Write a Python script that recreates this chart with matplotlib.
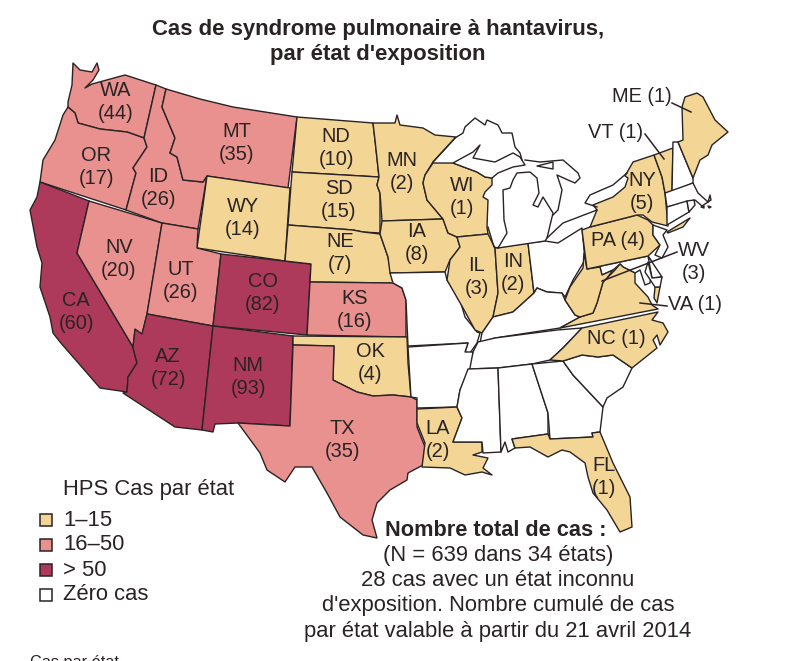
import numpy as np
import matplotlib
matplotlib.use("Agg")
import matplotlib.pyplot as plt
from matplotlib.patches import Polygon, Rectangle

plt.rcParams['font.family'] = ['Liberation Sans', 'DejaVu Sans']

INK = '#2a2324'
BIN_COLORS = ['#ffffff', '#f3d596', '#e8918f', '#ae3a5b']
BIN_EDGES = [1, 16, 51]

# cases per state, as printed on the map
states_with_cases = ['WA', 'OR', 'CA', 'NV', 'ID', 'MT', 'WY', 'UT', 'AZ', 'CO', 'NM', 'ND', 'SD', 'NE',
                     'KS', 'OK', 'TX', 'MN', 'IA', 'WI', 'IL', 'IN', 'LA', 'FL', 'NC', 'VA', 'WV', 'PA',
                     'NY', 'VT', 'ME']
case_counts = [44, 17, 60, 20, 26, 35, 14, 26, 72, 82, 93, 10, 15, 7,
               16, 4, 35, 2, 8, 1, 3, 2, 2, 1, 1, 1, 3, 4, 5, 1, 1]
cases = dict(zip(states_with_cases, case_counts))

title_lines = "Cas de syndrome pulmonaire à hantavirus,\npar état d'exposition"
legend_title = 'HPS Cas par état'
legend_labels = ['1–15', '16–50', '> 50', 'Zéro cas']
legend_bins = [1, 2, 3, 0]
total_head = 'Nombre total de cas :'
total_lines = ['(N = 639 dans 34 états)', '28 cas avec un état inconnu',
               "d'exposition. Nombre cumulé de cas", 'par état valable à partir du 21 avril 2014']

# state outlines, map units are the picture's own pixels
outlines = {
    'WA': [(73, 63), (80, 70), (92, 72), (97, 63), (99, 70), (93, 80), (85, 88), (92, 84), (125, 75), (156, 85), (144, 138),
           (127, 132), (100, 129), (78, 123), (75, 113), (68, 107), (68, 102), (72, 85)],
    'OR': [(68, 107), (75, 113), (78, 123), (100, 129), (127, 132), (144, 138), (147, 147), (133, 168), (136, 173),
           (126, 210), (40, 182), (43, 160), (55, 140), (63, 115)],
    'CA': [(40, 182), (89, 201), (77, 253), (133, 347), (137, 363), (128, 377), (127, 392), (100, 388), (80, 365),
           (60, 342), (53, 333), (50, 317), (40, 287), (42, 263), (37, 247), (30, 210), (37, 197)],
    'NV': [(89, 201), (162, 223), (147, 314), (142, 335), (135, 330), (133, 347), (77, 253)],
    'ID': [(156, 85), (166, 89), (162, 107), (175, 138), (170, 153), (177, 157), (183, 180), (203, 182), (207, 176),
           (198, 229), (162, 223), (126, 210), (136, 173), (133, 168), (147, 147), (144, 138)],
    'MT': [(166, 89), (200, 99), (233, 107), (297, 117), (288, 188), (207, 176), (203, 182), (183, 180), (177, 157),
           (170, 153), (175, 138), (162, 107)],
    'WY': [(207, 176), (290, 188), (285, 261), (197, 248)],
    'UT': [(162, 223), (198, 229), (197, 248), (221, 254), (213, 326), (147, 314)],
    'AZ': [(147, 314), (213, 326), (202, 430), (175, 427), (123, 393), (127, 392), (128, 377), (137, 363), (133, 348),
           (135, 329), (142, 334)],
    'CO': [(221, 254), (311, 264), (307, 335), (213, 326)],
    'NM': [(213, 326), (293, 336), (290, 426), (238, 423), (215, 424), (213, 432), (202, 430)],
    'ND': [(297, 117), (373, 123), (375, 140), (379, 177), (292, 172)],
    'SD': [(292, 172), (379, 177), (377, 185), (380, 193), (380, 233), (363, 232), (353, 230), (288, 225)],
    'NE': [(288, 225), (353, 230), (363, 232), (380, 234), (388, 257), (393, 283), (310, 282), (311, 264), (285, 261)],
    'KS': [(310, 282), (393, 283), (402, 288), (406, 300), (406, 337), (307, 335)],
    'OK': [(293, 336), (407, 337), (408, 363), (411, 397), (393, 395), (373, 396), (357, 392), (333, 380), (334, 346),
           (293, 345)],
    'TX': [(293, 345), (334, 346), (333, 380), (357, 392), (373, 396), (393, 395), (411, 397), (417, 400), (417, 427),
           (425, 447), (423, 465), (408, 473), (407, 480), (390, 490), (377, 503), (372, 520), (377, 538), (363, 535),
           (340, 517), (327, 493), (312, 467), (295, 467), (285, 482), (267, 470), (260, 453), (238, 423), (290, 426)],
    'MN': [(373, 123), (395, 123), (397, 115), (400, 125), (423, 128), (435, 135), (456, 137), (433, 162), (425, 175),
           (423, 183), (427, 200), (443, 219), (382, 221), (380, 193), (377, 185), (379, 177), (375, 140)],
    'IA': [(382, 221), (443, 219), (448, 233), (457, 237), (460, 247), (450, 260), (445, 272), (390, 273), (388, 257),
           (380, 234)],
    'MO': [(390, 273), (445, 272), (447, 280), (460, 300), (465, 317), (477, 332), (480, 333), (477, 343), (470, 353),
           (465, 352), (468, 343), (408, 346), (406, 300), (402, 288), (393, 283)],
    'WI': [(433, 163), (453, 163), (477, 172), (485, 177), (492, 178), (492, 185), (485, 192), (483, 197), (488, 200),
           (487, 227), (488, 234), (457, 237), (448, 233), (443, 219), (427, 200), (423, 183), (425, 175)],
    'IL': [(457, 237), (488, 234), (495, 248), (498, 293), (493, 317), (482, 333), (475, 330), (463, 308), (447, 280),
           (450, 260), (460, 247)],
    'IN': [(495, 248), (528, 243), (534, 293), (523, 303), (513, 312), (493, 317), (498, 293)],
    'OH': [(528, 243), (545, 241), (558, 243), (582, 228), (585, 260), (573, 280), (565, 297), (562, 293), (547, 292),
           (537, 288), (534, 293)],
    'KY': [(537, 288), (547, 292), (562, 293), (565, 300), (575, 315), (580, 317), (560, 328), (495, 338), (480, 343),
           (482, 333), (493, 317), (513, 312), (523, 303), (534, 293)],
    'TN': [(478, 342), (495, 338), (557, 330), (582, 328), (563, 348), (550, 360), (532, 364), (498, 368), (468, 369),
           (473, 352)],
    'AR': [(408, 347), (468, 343), (465, 352), (473, 352), (470, 368), (460, 390), (457, 407), (417, 408), (417, 398),
           (411, 397)],
    'LA': [(417, 409), (457, 407), (462, 418), (453, 442), (482, 442), (482, 452), (473, 455), (488, 458), (483, 468),
           (492, 475), (482, 472), (465, 475), (450, 468), (422, 467), (425, 443), (417, 423)],
    'MS': [(468, 369), (498, 368), (501, 452), (483, 453), (482, 442), (453, 442), (462, 418), (457, 407), (460, 390)],
    'AL': [(498, 368), (532, 364), (548, 413), (548, 434), (512, 439), (515, 448), (508, 452), (505, 442), (501, 452)],
    'GA': [(532, 364), (563, 361), (573, 375), (603, 407), (600, 432), (592, 433), (593, 437), (550, 439), (548, 413)],
    'FL': [(512, 439), (548, 434), (550, 439), (593, 437), (592, 433), (600, 432), (613, 463), (630, 497), (632, 527),
           (620, 532), (607, 510), (593, 493), (588, 477), (585, 463), (570, 452), (562, 450), (548, 457), (530, 447),
           (515, 448)],
    'SC': [(563, 361), (582, 355), (598, 357), (613, 355), (632, 368), (623, 387), (607, 398), (603, 407), (573, 375)],
    'NC': [(550, 360), (563, 348), (582, 328), (658, 312), (652, 320), (663, 323), (668, 332), (660, 345), (657, 335),
           (653, 340), (657, 348), (632, 368), (613, 355), (598, 357), (582, 355), (563, 361)],
    'MD': [(587, 269), (648, 256), (652, 262), (650, 283), (645, 285), (640, 270), (635, 273), (623, 267), (620, 264),
           (613, 270), (602, 275), (600, 267)],
    'VA': [(560, 328), (580, 317), (593, 313), (597, 303), (603, 282), (615, 270), (620, 264), (623, 267), (635, 273),
           (635, 283), (648, 297), (652, 305), (658, 309)],
    'VA_shore': [(655, 287), (660, 287), (657, 303), (654, 298)],
    'WV': [(584, 253), (587, 269), (600, 267), (602, 275), (613, 270), (607, 278), (603, 282), (597, 303), (593, 313),
           (580, 317), (575, 315), (565, 300), (570, 287), (583, 268)],
    'DE': [(648, 256), (652, 262), (662, 277), (652, 278)],
    'MD_shore': [(648, 262), (652, 278), (662, 277), (660, 287), (655, 287), (645, 272)],
    'PA': [(582, 230), (590, 227), (637, 215), (648, 220), (653, 225), (653, 235), (660, 245), (648, 256), (587, 269)],
    'NJ': [(653, 225), (667, 230), (663, 235), (668, 247), (662, 258), (655, 255), (660, 245), (653, 235)],
    'NY': [(590, 227), (597, 210), (593, 205), (613, 197), (625, 187), (628, 178), (625, 176), (633, 162), (654, 155),
           (662, 177), (665, 193), (668, 226), (652, 222), (643, 215), (637, 215)],
    'NY_li': [(667, 232), (690, 218), (683, 227), (668, 233)],
    'VT': [(654, 155), (673, 148), (672, 192), (665, 193), (662, 177)],
    'NH': [(673, 142), (678, 142), (693, 178), (693, 183), (672, 192)],
    'ME': [(678, 142), (683, 140), (682, 107), (685, 97), (697, 93), (703, 97), (715, 120), (728, 132), (712, 145),
           (708, 155), (700, 160), (693, 178)],
    'MA': [(665, 193), (693, 183), (698, 193), (708, 202), (710, 195), (711, 200), (702, 206), (695, 200), (667, 207)],
    'MA_vineyard': [(701, 207), (704, 206), (704, 208)],
    'MA_nantucket': [(708, 206), (711, 207), (709, 208)],
    'CT': [(667, 207), (687, 201), (689, 212), (667, 225)],
    'RI': [(687, 201), (694, 200), (695, 205), (689, 212)],
    'MI_upper': [(453, 163), (473, 152), (480, 145), (473, 158), (495, 162), (513, 153), (520, 157), (525, 165),
                 (513, 167), (498, 173), (492, 178), (485, 177), (477, 172)],
    'MI_lower': [(498, 248), (507, 233), (504, 220), (503, 190), (510, 188), (513, 180), (517, 173), (530, 172),
                 (537, 178), (539, 193), (533, 205), (538, 207), (543, 197), (553, 213), (547, 238), (545, 241)],
    'manitoulin': [(537, 166), (553, 162), (553, 169)],
}
lake_shores = [
    [(433, 162), (455, 138), (463, 133), (465, 127), (475, 118), (485, 125), (487, 120), (498, 125), (502, 133),
     (512, 133), (515, 147), (520, 153), (522, 160)],
    [(525, 160), (540, 162), (563, 160), (578, 173), (580, 178), (575, 183), (568, 180), (557, 175), (562, 190),
     (558, 210), (553, 215)],
    [(547, 238), (563, 223), (597, 210)],
    [(488, 227), (494, 247), (498, 248)],
    [(597, 207), (585, 203), (590, 195), (613, 185), (627, 173)],
]

# label text layout: stacked or on one line, centres in map units
stacked_labels = {'WA': (116, 102), 'OR': (96, 167), 'ID': (158, 188), 'MT': (237, 143), 'ND': (336, 148),
                  'SD': (339, 200), 'WY': (243, 218), 'NE': (340, 253), 'NV': (119, 259), 'UT': (181, 281),
                  'CO': (263, 293), 'CA': (76, 312), 'KS': (355, 310), 'AZ': (168, 368), 'NM': (248, 377),
                  'OK': (370, 363), 'TX': (342, 440), 'LA': (438, 440), 'FL': (604, 477), 'IL': (477, 277),
                  'IN': (513, 273), 'IA': (417, 243), 'WI': (462, 197), 'MN': (402, 172), 'NY': (642, 192),
                  'WV': (694, 262)}
inline_labels = {'PA': (618, 241), 'NC': (616, 338), 'ME': (642, 97), 'VT': (616, 132), 'VA': (695, 305)}
leaders = [((672, 103), (691, 112)), ((645, 134), (664, 159)), ((677, 252), (602, 281)), ((640, 303), (667, 306))]


def fill_for(code):
    n = cases.get(code.split('_')[0], 0)
    return BIN_COLORS[int(np.digitize(n, BIN_EDGES))]


fig = plt.figure(figsize=(8, 6.61), dpi=100)
ax = fig.add_axes([0, 0, 1, 1])
ax.set_xlim(0, 800)
ax.set_ylim(661, 0)
ax.axis('off')

for code, pts in outlines.items():
    ax.add_patch(Polygon(pts, closed=True, facecolor=fill_for(code), edgecolor=INK, linewidth=1.0, joinstyle='round'))

for shore in lake_shores:
    xs, ys = zip(*shore)
    ax.plot(xs, ys, color=INK, linewidth=1.0)

for start, end in leaders:
    ax.plot([start[0], end[0]], [start[1], end[1]], color=INK, linewidth=1.1)

for code, (x, y) in stacked_labels.items():
    ax.text(x, y, f"{code}\n({cases[code]})", ha='center', va='center', fontsize=14.4, color=INK, linespacing=1.3)
for code, (x, y) in inline_labels.items():
    ax.text(x, y, f"{code} ({cases[code]})", ha='center', va='center', fontsize=14.4, color=INK)

ax.text(378, 42, title_lines, ha='center', va='center', fontsize=15.9, fontweight='bold', color=INK, linespacing=1.24)

# legend
ax.text(63, 489, legend_title, ha='left', va='center', fontsize=15.8, color=INK)
for i, (label, b) in enumerate(zip(legend_labels, legend_bins)):
    y = 520 + i * 25
    ax.add_patch(Rectangle((40, y - 6), 12, 12, facecolor=BIN_COLORS[b], edgecolor=INK, linewidth=1.1))
    ax.text(63, y, label, ha='left', va='center', fontsize=15.8, color=INK)

ax.text(496, 531, total_head, ha='center', va='center', fontsize=15.7, fontweight='bold', color=INK)
for i, line in enumerate(total_lines):
    ax.text(498, 555 + i * 25.5, line, ha='center', va='center', fontsize=15.8, color=INK)

ax.text(30, 663, 'Cas par état', ha='left', va='center', fontsize=11.7, color=INK)

fig.savefig('out.png', dpi=100)
